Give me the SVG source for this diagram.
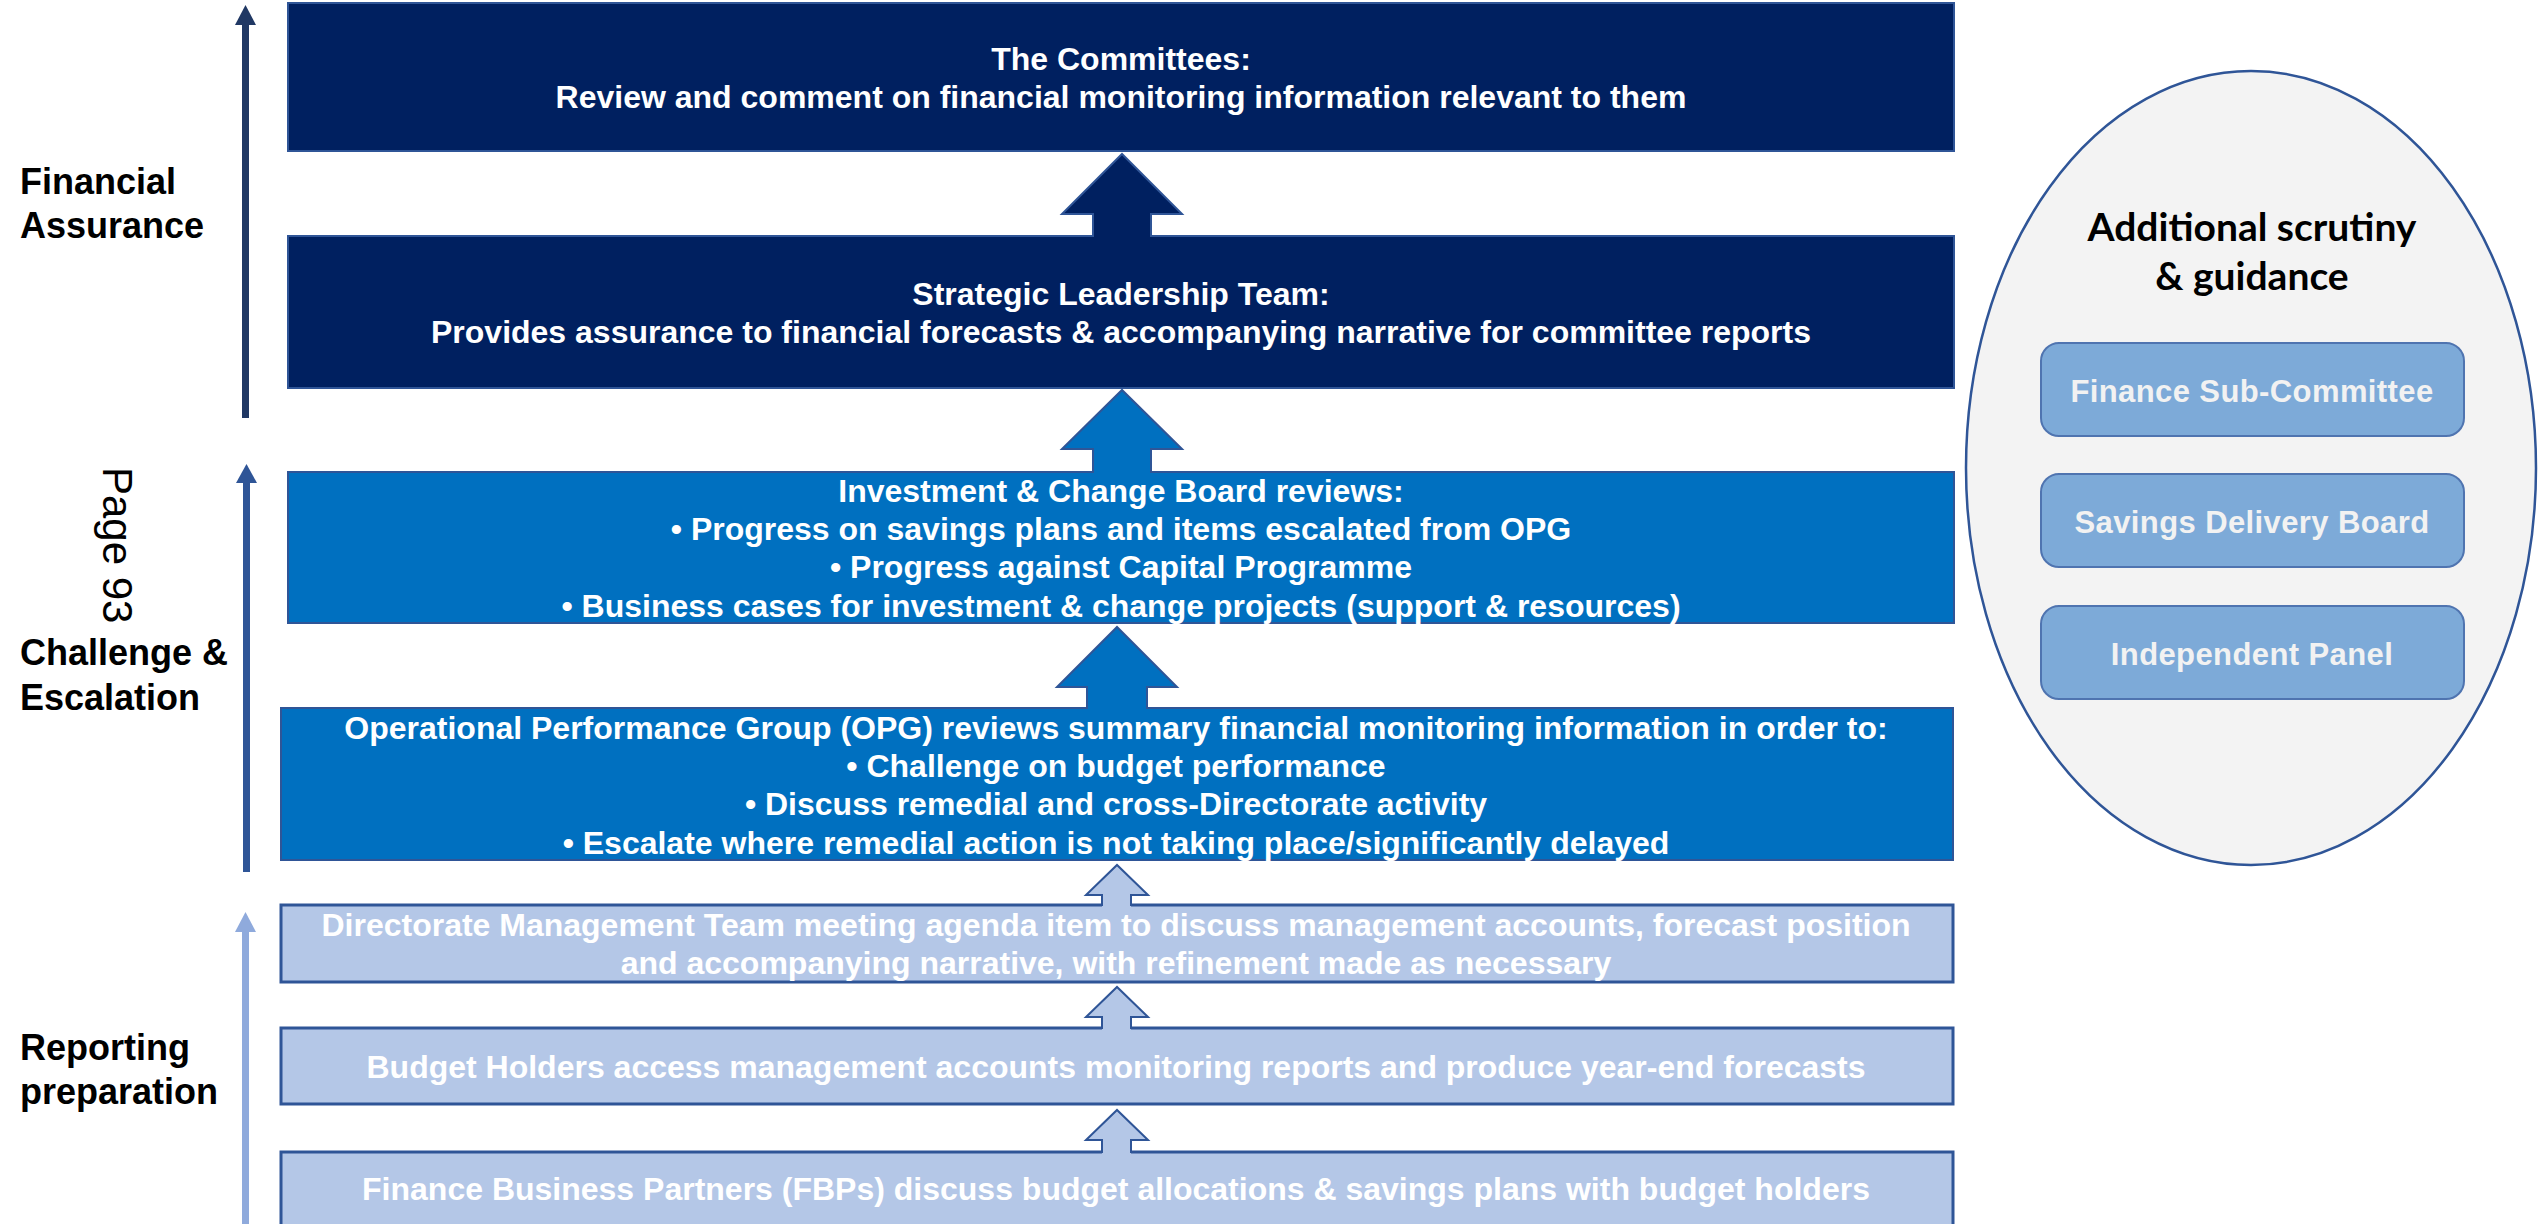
<svg xmlns="http://www.w3.org/2000/svg" width="2539" height="1224" viewBox="0 0 2539 1224">
  <style>
    .lbl { font-family: "Liberation Sans", Arial, sans-serif; font-weight: bold; font-size: 36px; fill: #000000; }
    .page { font-family: "Liberation Sans", Arial, sans-serif; font-size: 42px; fill: #000000; }
    .txt { font-family: "Liberation Sans", Arial, sans-serif; font-weight: bold; font-size: 32px; fill: #FFFFFF; text-anchor: middle; }
    .navy { fill: #002060; stroke: #2F5597; stroke-width: 2; }
    .blue { fill: #0070C0; stroke: #2F5597; stroke-width: 2; }
    .pale { fill: #B4C7E7; stroke: #2F5597; stroke-width: 3; }
    .edge { fill: none; stroke: #2F5597; stroke-width: 2; stroke-linejoin: miter; }
    .oval { fill: #F3F3F3; stroke: #2F5597; stroke-width: 2.5; }
    .pill { fill: #7DAAD8; stroke: #4F74B0; stroke-width: 2; }
    .head { font-family: Lato, "Open Sans", sans-serif; font-weight: bold; font-size: 39px; fill: #000000; text-anchor: middle; }
    .ptxt { font-family: "Liberation Sans", Arial, sans-serif; font-weight: bold; font-size: 31px; fill: #F2F2F2; text-anchor: middle; letter-spacing: 0.4px; }
  </style>

  <!-- stage labels on the left -->
  <g id="labels">
    <text class="lbl" x="20" y="194">Financial</text>
    <text class="lbl" x="20" y="238">Assurance</text>
    <text class="lbl" x="20" y="665">Challenge &amp;</text>
    <text class="lbl" x="20" y="710">Escalation</text>
    <text class="lbl" x="20" y="1060">Reporting</text>
    <text class="lbl" x="20" y="1104">preparation</text>
    <text class="page" transform="translate(103,467) rotate(90)">Page 93</text>
  </g>

  <!-- vertical stage arrows -->
  <g id="axes">
    <rect x="242" y="22" width="7" height="396" fill="#203864"/>
    <polygon points="245.5,5 256,25 235,25" fill="#203864"/>
    <rect x="243" y="480" width="7" height="392" fill="#2F5597"/>
    <polygon points="246.5,464 257,483 236,483" fill="#2F5597"/>
    <rect x="242" y="929" width="7" height="295" fill="#8FAADC"/>
    <polygon points="245.5,912 256,932 235,932" fill="#8FAADC"/>
  </g>

  <!-- process boxes -->
  <g id="committees">
    <rect class="navy" x="288" y="3" width="1666" height="148"/>
    <text class="txt" x="1121" y="70">The Committees:</text>
    <text class="txt" x="1121" y="108">Review and comment on financial monitoring information relevant to them</text>
  </g>

  <g id="slt">
    <rect class="navy" x="288" y="236" width="1666" height="152"/>
    <text class="txt" x="1121" y="305">Strategic Leadership Team:</text>
    <text class="txt" x="1121" y="343">Provides assurance to financial forecasts &amp; accompanying narrative for committee reports</text>
  </g>

  <g id="icb">
    <rect class="blue" x="288" y="472" width="1666" height="151"/>
    <text class="txt" x="1121" y="502">Investment &amp; Change Board reviews:</text>
    <text class="txt" x="1121" y="540">• Progress on savings plans and items escalated from OPG</text>
    <text class="txt" x="1121" y="578">• Progress against Capital Programme</text>
    <text class="txt" x="1121" y="617">• Business cases for investment &amp; change projects (support &amp; resources)</text>
  </g>

  <g id="opg">
    <rect class="blue" x="281" y="708" width="1672" height="152"/>
    <text class="txt" x="1116" y="739">Operational Performance Group (OPG) reviews summary financial monitoring information in order to:</text>
    <text class="txt" x="1116" y="777">• Challenge on budget performance</text>
    <text class="txt" x="1116" y="815">• Discuss remedial and cross-Directorate activity</text>
    <text class="txt" x="1116" y="854">• Escalate where remedial action is not taking place/significantly delayed</text>
  </g>

  <g id="dmt">
    <rect class="pale" x="281" y="905" width="1672" height="77"/>
    <text class="txt" x="1116" y="936">Directorate Management Team meeting agenda item to discuss management accounts, forecast position</text>
    <text class="txt" x="1116" y="974">and accompanying narrative, with refinement made as necessary</text>
  </g>

  <g id="budget-holders">
    <rect class="pale" x="281" y="1028" width="1672" height="76"/>
    <text class="txt" x="1116" y="1078">Budget Holders access management accounts monitoring reports and produce year-end forecasts</text>
  </g>

  <g id="fbp">
    <rect class="pale" x="281" y="1152" width="1672" height="80"/>
    <text class="txt" x="1116" y="1200">Finance Business Partners (FBPs) discuss budget allocations &amp; savings plans with budget holders</text>
  </g>

  <!-- block arrows joining the boxes: filled body, then an open outline -->
  <g id="connectors">
    <path d="M1093,238 V214 H1062 L1122,154 L1182,214 H1151 V238 Z" fill="#002060"/>
    <path class="edge" d="M1093,237 V214 H1062 L1122,154 L1182,214 H1151 V237"/>

    <path d="M1093,474 V449 H1062 L1122,390 L1182,449 H1151 V474 Z" fill="#0070C0"/>
    <path class="edge" d="M1093,473 V449 H1062 L1122,390 L1182,449 H1151 V473"/>

    <path d="M1087,710 V687 H1057 L1117,627 L1177,687 H1147 V710 Z" fill="#0070C0"/>
    <path class="edge" d="M1087,709 V687 H1057 L1117,627 L1177,687 H1147 V709"/>

    <path d="M1102,907 V895 H1086 L1117,865 L1148,895 H1131 V907 Z" fill="#B4C7E7"/>
    <path class="edge" d="M1102,906 V895 H1086 L1117,865 L1148,895 H1131 V906"/>

    <path d="M1102,1030 V1017 H1086 L1117,987 L1148,1017 H1131 V1030 Z" fill="#B4C7E7"/>
    <path class="edge" d="M1102,1029 V1017 H1086 L1117,987 L1148,1017 H1131 V1029"/>

    <path d="M1102,1154 V1140 H1086 L1117,1110 L1148,1140 H1131 V1154 Z" fill="#B4C7E7"/>
    <path class="edge" d="M1102,1153 V1140 H1086 L1117,1110 L1148,1140 H1131 V1153"/>
  </g>

  <!-- side panel -->
  <g id="scrutiny">
    <ellipse class="oval" cx="2251" cy="468" rx="285" ry="397"/>
    <text class="head" x="2252" y="241">Additional scrutiny</text>
    <text class="head" x="2252" y="290">&amp; guidance</text>
  </g>

  <g id="finance-sub-committee">
    <rect class="pill" x="2041" y="343" width="423" height="93" rx="18"/>
    <text class="ptxt" x="2252" y="402">Finance Sub-Committee</text>
  </g>

  <g id="savings-delivery-board">
    <rect class="pill" x="2041" y="474" width="423" height="93" rx="18"/>
    <text class="ptxt" x="2252" y="533">Savings Delivery Board</text>
  </g>

  <g id="independent-panel">
    <rect class="pill" x="2041" y="606" width="423" height="93" rx="18"/>
    <text class="ptxt" x="2252" y="665">Independent Panel</text>
  </g>
</svg>
